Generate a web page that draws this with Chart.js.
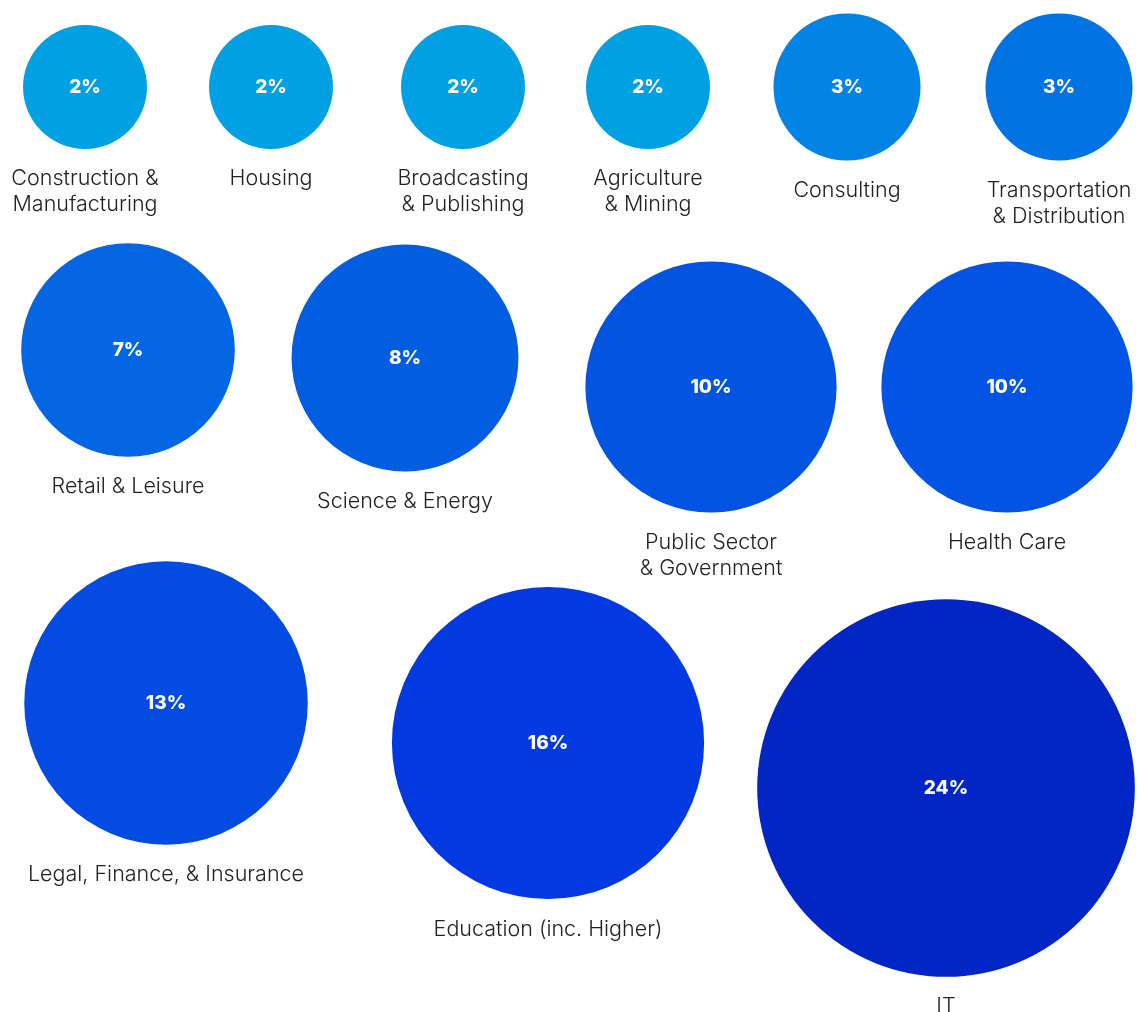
<!DOCTYPE html>
<html>
<head>
<meta charset="utf-8">
<title>Sectors</title>
<script src="https://cdn.jsdelivr.net/npm/chart.js@4.4.1/dist/chart.umd.min.js"></script>
<style>
  html, body { margin: 0; padding: 0; background: #fff; }
  #wrap { width: 1139px; height: 1012px; position: relative; }
</style>
</head>
<body>
<div id="wrap"><canvas id="sectorChart"></canvas></div>
<script>
// sector names (one entry per line of the caption)
const sectors = [
  ['Construction &', 'Manufacturing'],
  ['Housing'],
  ['Broadcasting', '& Publishing'],
  ['Agriculture', '& Mining'],
  ['Consulting'],
  ['Transportation', '& Distribution'],
  ['Retail & Leisure'],
  ['Science & Energy'],
  ['Public Sector', '& Government'],
  ['Health Care'],
  ['Legal, Finance, & Insurance'],
  ['Education (inc. Higher)'],
  ['IT']
];

// share of respondents, %
const shares = [2, 2, 2, 2, 3, 3, 7, 8, 10, 10, 13, 16, 24];

// where each bubble sits on the (hidden) x / y scales
const bubbleX = [85, 271, 463, 648, 847, 1059, 128, 405, 711, 1007, 166, 548, 946];
const bubbleY = [87, 87, 87, 87, 87, 87, 350, 358, 387, 387, 703, 743, 788];

const fills = [
  '#00a0e3', '#00a0e3', '#00a0e3', '#00a0e3', '#0384e4', '#0273e3',
  '#0466e3', '#025de1', '#0454e2', '#0354e2', '#044be2', '#0339e1', '#0226c4'
];

// bubble radius grows with the square root of the share
function radiusFor(v) {
  return 10.5 + 36.4 * Math.sqrt(v);
}

const points = shares.map((v, i) => ({ x: bubbleX[i], y: bubbleY[i], r: radiusFor(v) }));

const bubbleLabels = {
  id: 'bubbleLabels',
  afterDatasetsDraw(chart) {
    const ctx = chart.ctx;
    const meta = chart.getDatasetMeta(0);
    ctx.save();
    ctx.textAlign = 'center';
    ctx.textBaseline = 'middle';
    meta.data.forEach((el, i) => {
      const r = points[i].r;
      ctx.fillStyle = '#ffffff';
      ctx.font = '800 19px Inter, "Open Sans", sans-serif';
      ctx.fillText(shares[i] + '%', el.x, el.y);

      ctx.fillStyle = '#222222';
      ctx.font = '300 21.5px Inter, "Open Sans", sans-serif';
      sectors[i].forEach((line, j) => {
        ctx.fillText(line, el.x, el.y + r + 30 + j * 26);
      });
    });
    ctx.restore();
  }
};

new Chart(document.getElementById('sectorChart'), {
  type: 'bubble',
  data: {
    datasets: [{
      data: points,
      backgroundColor: fills,
      borderWidth: 0,
      hoverBorderWidth: 0,
      hoverRadius: 0,
      clip: false
    }]
  },
  options: {
    responsive: true,
    maintainAspectRatio: false,
    animation: false,
    layout: { padding: 0, autoPadding: false },
    events: [],
    scales: {
      x: { type: 'linear', min: 0, max: 1139, display: false },
      y: { type: 'linear', min: 0, max: 1012, reverse: true, display: false }
    },
    plugins: {
      legend: { display: false },
      tooltip: { enabled: false }
    }
  },
  plugins: [bubbleLabels]
});
</script>
</body>
</html>
